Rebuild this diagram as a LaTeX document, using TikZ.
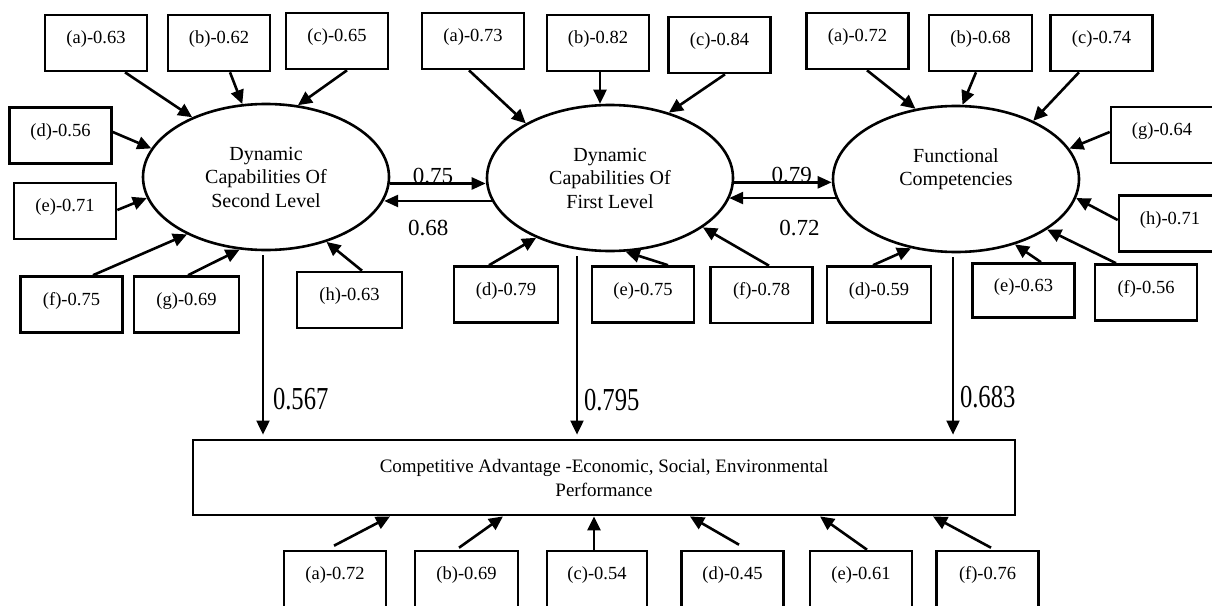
\documentclass[tikz,border=0pt]{standalone}
\usepackage{fontspec}
\setmainfont{Liberation Serif}
\usepackage{graphicx}
\usetikzlibrary{arrows.meta,shapes.geometric}
\begin{document}
\begin{tikzpicture}[x=1pt,y=-1pt,
  ind/.style={draw, line width=2.6pt, minimum width=102pt, minimum height=56pt, inner sep=0pt,
    font=\fontsize{18.5}{21}\selectfont, text height=12.5pt, text depth=11pt},
  lat/.style={draw, ellipse, line width=2.6pt, minimum width=246pt, minimum height=146pt,
    inner sep=0pt, align=center, font=\fontsize{20}{23.5}\selectfont},
  outc/.style={draw, line width=2.8pt, minimum width=822pt, minimum height=75pt, inner sep=0pt,
    align=center, font=\fontsize{19}{24}\selectfont},
  arr/.style={line width=2.6pt, -{Triangle[length=14pt,width=13pt]}},
  harr/.style={line width=2.5pt, -{Triangle[length=14pt,width=12pt]}},
  varr/.style={line width=2pt, -{Triangle[length=14pt,width=13pt]}, shorten <=4pt, shorten >=4pt},
  hlab/.style={font=\fontsize{23}{23}\selectfont, anchor=base, inner sep=0pt},
  vlab/.style={font=\fontsize{32}{32}\selectfont, anchor=base west, inner sep=0pt}
]
\useasboundingbox (0,0) rectangle (1212,605);
\fill[white] (0,0) rectangle (1212,605);
\clip (0,0) rectangle (1212,605);

% latent variables
\node[lat] (e1) at (266,177) {Dynamic\\Capabilities Of\\Second Level};
\node[lat] (e2) at (610,178) {Dynamic\\Capabilities Of\\First Level};
\node[lat] (e3) at (956,179) {Functional\\Competencies\\\mbox{}};
\node[outc] (ca) at (604,477.5) {Competitive Advantage -Economic, Social, Environmental\\Performance};

% indicators of e1
\node[ind] (b1a) at (96,43) {(a)-0.63};
\node[ind] (b1b) at (219,43) {(b)-0.62};
\node[ind] (b1c) at (337,41) {(c)-0.65};
\node[ind] (b1d) at (60.5,135.5) {(d)-0.56};
\node[ind] (b1e) at (65,211) {(e)-0.71};
\node[ind] (b1f) at (71.5,304.5) {(f)-0.75};
\node[ind, minimum width=105pt] (b1g) at (186.5,304.5) {(g)-0.69};
\node[ind, minimum width=105pt] (b1h) at (349.5,300) {(h)-0.63};

% indicators of e2
\node[ind] (b2a) at (473,41) {(a)-0.73};
\node[ind] (b2b) at (598,43) {(b)-0.82};
\node[ind] (b2c) at (719.5,45) {(c)-0.84};
\node[ind, minimum width=104pt] (b2d) at (506,294.5) {(d)-0.79};
\node[ind] (b2e) at (643,294.5) {(e)-0.75};
\node[ind] (b2f) at (761.5,295) {(f)-0.78};

% indicators of e3
\node[ind] (b3a) at (857.5,41) {(a)-0.72};
\node[ind, minimum width=103pt] (b3b) at (980.5,43) {(b)-0.68};
\node[ind] (b3c) at (1101.5,43) {(c)-0.74};
\node[ind] (b3g) at (1162,135) {(g)-0.64};
\node[ind] (b3h) at (1170,223.5) {(h)-0.71};
\node[ind, minimum width=104pt] (b3d) at (879,294.5) {(d)-0.59};
\node[ind, minimum height=54pt] (b3e) at (1023.5,290.5) {(e)-0.63};
\node[ind] (b3f) at (1146,292.5) {(f)-0.56};

% indicators of competitive advantage
\node[ind] (c1) at (335,579) {(a)-0.72};
\node[ind, minimum width=103pt] (c2) at (466.5,579) {(b)-0.69};
\node[ind, minimum width=100pt] (c3) at (597,579) {(c)-0.54};
\node[ind] (c4) at (732.5,579) {(d)-0.45};
\node[ind] (c5) at (861,579) {(e)-0.61};
\node[ind] (c6) at (987.5,579) {(f)-0.76};

% arrows to e1
\draw[arr] ([xshift=29pt]b1a.south) -- (e1.141);
\draw[arr] ([xshift=11pt]b1b.south) -- (e1.108);
\draw[arr] ([xshift=10pt]b1c.south) -- (e1.66);
\draw[arr] ([yshift=3.5pt]b1d.east) -- (e1.166);
\draw[arr] ([yshift=1pt]b1e.east) -- (e1.-170);
\draw[arr] ([xshift=21.5pt]b1f.north) -- (e1.-144);
\draw[arr] ([xshift=1.5pt]b1g.north) -- (e1.-110);
\draw[arr] ([xshift=12.5pt]b1h.north) -- (e1.-47);

% arrows to e2
\draw[arr] ([xshift=-4pt]b2a.south) -- (e2.147);
\draw[arr] ([xshift=2pt]b2b.south) -- ([xshift=2pt]b2b.south |- e2.north);
\draw[arr] ([xshift=5.5pt]b2c.south) -- (e2.48);
\draw[arr] ([xshift=-17pt]b2d.north) -- (e2.-141);
\draw[arr] ([xshift=25pt]b2e.north) -- (e2.-78);
\draw[arr] ([xshift=7.5pt]b2f.north) -- (e2.-28);

% arrows to e3
\draw[arr] ([xshift=9.5pt]b3a.south) -- (e3.120);
\draw[arr] ([xshift=-4.5pt]b3b.south) -- (e3.85);
\draw[arr] ([xshift=-22.5pt]b3c.south) -- (e3.37);
\draw[arr] ([yshift=3pt]b3g.west) -- (e3.15);
\draw[arr] ([yshift=3.5pt]b3h.west) -- (e3.-9);
\draw[arr] ([xshift=-6pt]b3d.north) -- (e3.-123);
\draw[arr] ([xshift=17.5pt]b3e.north) -- (e3.-48);
\draw[arr] ([xshift=-30pt]b3f.north) -- (e3.-29);

% arrows to competitive advantage
\draw[arr] ([xshift=-1pt,yshift=4pt]c1.north) -- ([xshift=-214pt]ca.south);
\draw[arr] ([xshift=-7.5pt,yshift=2pt]c2.north) -- ([xshift=-101pt]ca.south);
\draw[arr] ([xshift=-3pt]c3.north) -- ([xshift=-3pt]c3.north |- ca.south);
\draw[arr] ([xshift=6.5pt,yshift=5pt]c4.north) -- ([xshift=86pt]ca.south);
\draw[arr] ([xshift=6pt]c5.north) -- ([xshift=216pt]ca.south);
\draw[arr] ([xshift=3.5pt,yshift=2pt]c6.north) -- ([xshift=329pt]ca.south);

% correlations between latent variables
\draw[harr] (e1.-3) -- node[hlab, pos=0.45] {0.75} (e1.-3 -| e2.west);
\draw[harr] (e2.-169) -- node[hlab, pos=0.59, yshift=-35pt] {0.68} (e2.-169 -| e1.-11);
\draw[harr] (e2.-2) -- node[hlab, pos=0.59] {0.79} (e2.-2 -| e3.west);
\draw[harr] (e3.-171) -- node[hlab, pos=0.34, yshift=-37pt] {0.72} (e3.-171 -| e2.-10);

% paths to competitive advantage
\draw[varr] ([xshift=-3pt]e1.south) -- node[vlab, pos=0.847, xshift=9pt] {\scalebox{0.77}[1]{0.567}} ([xshift=-3pt]e1.south |- ca.north);
\draw[varr] ([xshift=-33pt]e2.south) -- node[vlab, pos=0.847, xshift=6pt] {\scalebox{0.77}[1]{0.795}} ([xshift=-33pt]e2.south |- ca.north);
\draw[varr] ([xshift=-3pt]e3.south) -- node[vlab, pos=0.83, xshift=6pt] {\scalebox{0.77}[1]{0.683}} ([xshift=-3pt]e3.south |- ca.north);
\end{tikzpicture}
\end{document}
